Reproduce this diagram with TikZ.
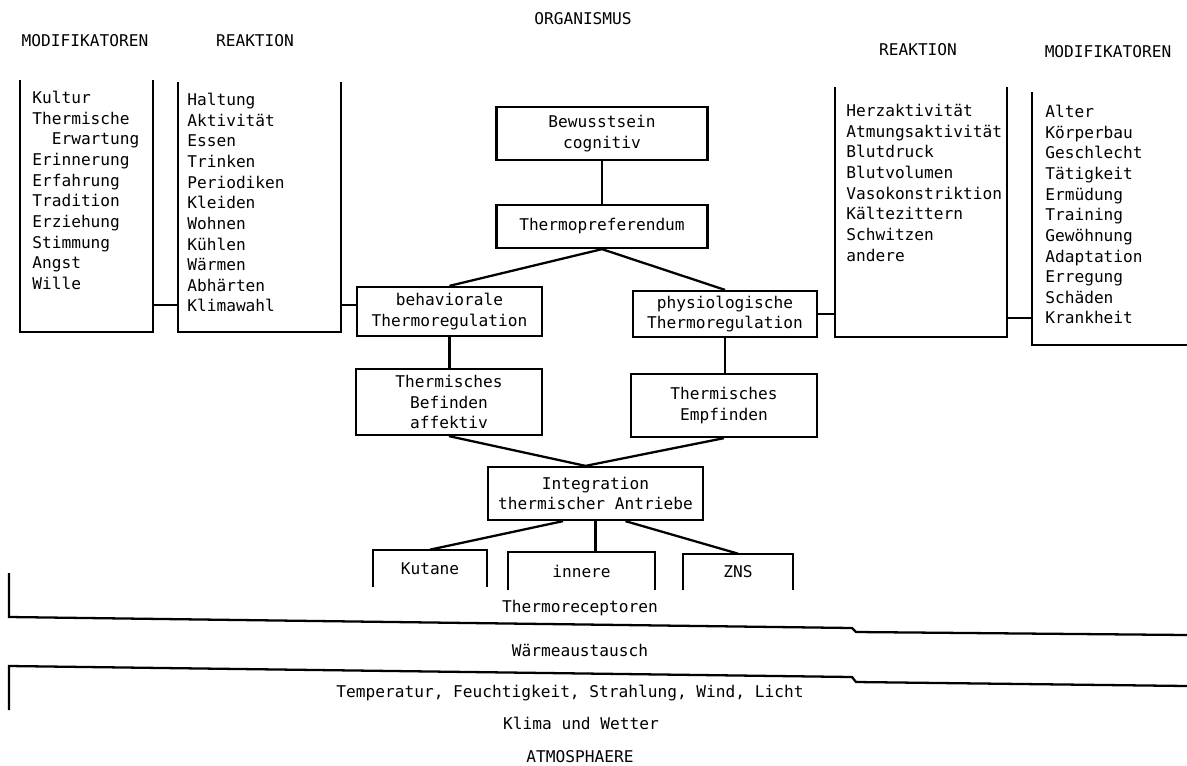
\documentclass[tikz,border=0pt]{standalone}
\usepackage{fontspec}
\setmainfont{DejaVu Sans Mono}
\usetikzlibrary{positioning}
\tikzset{
  linie/.style={line width=1.3pt},
  kasten/.style={draw, linie, align=center, inner sep=0pt},
  rahmen/.style={inner sep=0pt, anchor=north west},
  rezeptor/.style={inner sep=0pt},
  liste/.style={align=left, inner sep=0pt}
}

\begin{document}
\begin{tikzpicture}[x=0.02cm, y=-0.02cm, font=\fontsize{9.2}{11.74}\selectfont]
\useasboundingbox (0,0) rectangle (1187,765);

% Ueberschriften
\node (org) at (583,19) {ORGANISMUS};
\node (modLkopf) at (85,41) {MODIFIKATOREN};
\node (reakLkopf) at (255,41) {REAKTION};
\node (reakRkopf) at (918,50) {REAKTION};
\node (modRkopf) at (1108,52) {MODIFIKATOREN};

% Rahmen links
\node[rahmen, minimum width=2.64cm, minimum height=5.02cm] (modL) at (20,80) {};
\draw[linie] (modL.north west) |- (modL.south east) -- (modL.north east);
\node[liste, below right=0.22cm and 0.24cm of modL.north west] (modLtext)
  {Kultur\\Thermische\\\phantom{xx}Erwartung\\Erinnerung\\Erfahrung\\Tradition\\Erziehung\\Stimmung\\Angst\\Wille};

\node[rahmen, minimum width=3.24cm, minimum height=4.98cm] (reakL) at (178,82) {};
\draw[linie] (reakL.north west) |- (reakL.south east) -- (reakL.north east);
\node[liste, below right=0.22cm and 0.18cm of reakL.north west] (reakLtext)
  {Haltung\\Aktivität\\Essen\\Trinken\\Periodiken\\Kleiden\\Wohnen\\Kühlen\\Wärmen\\Abhärten\\Klimawahl};

% Rahmen rechts
\node[rahmen, minimum width=3.42cm, minimum height=4.98cm] (reakR) at (835,87) {};
\draw[linie] (reakR.north west) |- (reakR.south east) -- (reakR.north east);
\node[liste, below right=0.34cm and 0.22cm of reakR.north west] (reakRtext)
  {Herzaktivität\\Atmungsaktivität\\Blutdruck\\Blutvolumen\\Vasokonstriktion\\Kältezittern\\Schwitzen\\andere};

\node[rahmen, minimum width=3.1cm, minimum height=5.04cm] (modR) at (1032,92) {};
\draw[linie] (modR.north west) |- (modR.south east);
\node[liste, below right=0.26cm and 0.26cm of modR.north west] (modRtext)
  {Alter\\Körperbau\\Geschlecht\\Tätigkeit\\Ermüdung\\Training\\Gewöhnung\\Adaptation\\Erregung\\Schäden\\Krankheit};

% Mitte
\node[kasten, minimum width=4.22cm, minimum height=1.06cm] (bew) at (602,133.5) {Bewusstsein\\cognitiv};
\node[kasten, minimum width=4.22cm, minimum height=0.86cm] (pref) at (602,226.5) {Thermopreferendum};
\node[kasten, minimum width=3.7cm, minimum height=0.98cm] (behav) at (449.5,311.5) {behaviorale\\Thermoregulation};
\node[kasten, minimum width=3.68cm, minimum height=0.92cm] (physio) at (725,314) {physiologische\\Thermoregulation};
\node[kasten, minimum width=3.72cm, minimum height=1.32cm] (befind) at (449,402) {Thermisches\\Befinden\\affektiv};
\node[kasten, minimum width=3.72cm, minimum height=1.26cm] (empf) at (724,405.5) {Thermisches\\Empfinden};
\node[kasten, minimum width=4.3cm, minimum height=1.06cm] (integ) at (595.5,493.5) {Integration\\thermischer Antriebe};

% Rezeptoren
\node[rezeptor, minimum width=2.28cm, minimum height=0.74cm] (kut) at (430,568.5) {Kutane};
\node[rezeptor, minimum width=2.94cm, minimum height=0.76cm] (inn) at (581.5,571) {innere};
\node[rezeptor, minimum width=2.2cm, minimum height=0.72cm] (zns) at (738,572) {ZNS};
\foreach \r in {kut,inn,zns}
  \draw[linie] (\r.south west) |- (\r.north east) -- (\r.south east);

% Verbindungen
\coordinate (kL1) at ([yshift=0.54cm]modL.south east);
\draw[linie] (kL1) -- (kL1 -| reakL.west);
\coordinate (kL2) at ([yshift=0.54cm]reakL.south east);
\draw[linie] (kL2) -- (kL2 -| behav.west);
\draw[linie] (physio.east) -- (physio.east -| reakR.west);
\coordinate (kR) at ([yshift=0.38cm]reakR.south east);
\draw[linie] (kR) -- (kR -| modR.west);

\draw[linie] (bew) -- (pref);
\draw[linie] (behav.north) -- (pref.south) -- (physio.north);
\draw[linie] (behav.south) -- (behav.south |- befind.north);
\draw[linie] (physio.south) -- (physio.south |- empf.north);
\coordinate (ij) at ([xshift=-0.2cm]integ.north);
\draw[linie] (befind.south) -- (ij) -- (empf.south);
\draw[linie] ([xshift=-0.65cm]integ.south) -- (kut.north);
\draw[linie] (integ.south) -- (integ.south |- inn.north);
\draw[linie] ([xshift=0.6cm]integ.south) -- (zns.north);

% Grenzen
\draw[linie] (9,573) -- (9,617) -- (852,628) -- (856,632) -- (1187,635);
\draw[linie] (9,710) -- (9,666) -- (852,677) -- (856,682) -- (1187,686);

\node (rez) at (580,608) {Thermoreceptoren};
\node (waerme) at (580,650) {Wärmeaustausch};
\node (faktoren) at (570,693) {Temperatur, Feuchtigkeit, Strahlung, Wind, Licht};
\node (klima) at (581,723) {Klima und Wetter};
\node (atmo) at (580,757) {ATMOSPHAERE};
\end{tikzpicture}
\end{document}
